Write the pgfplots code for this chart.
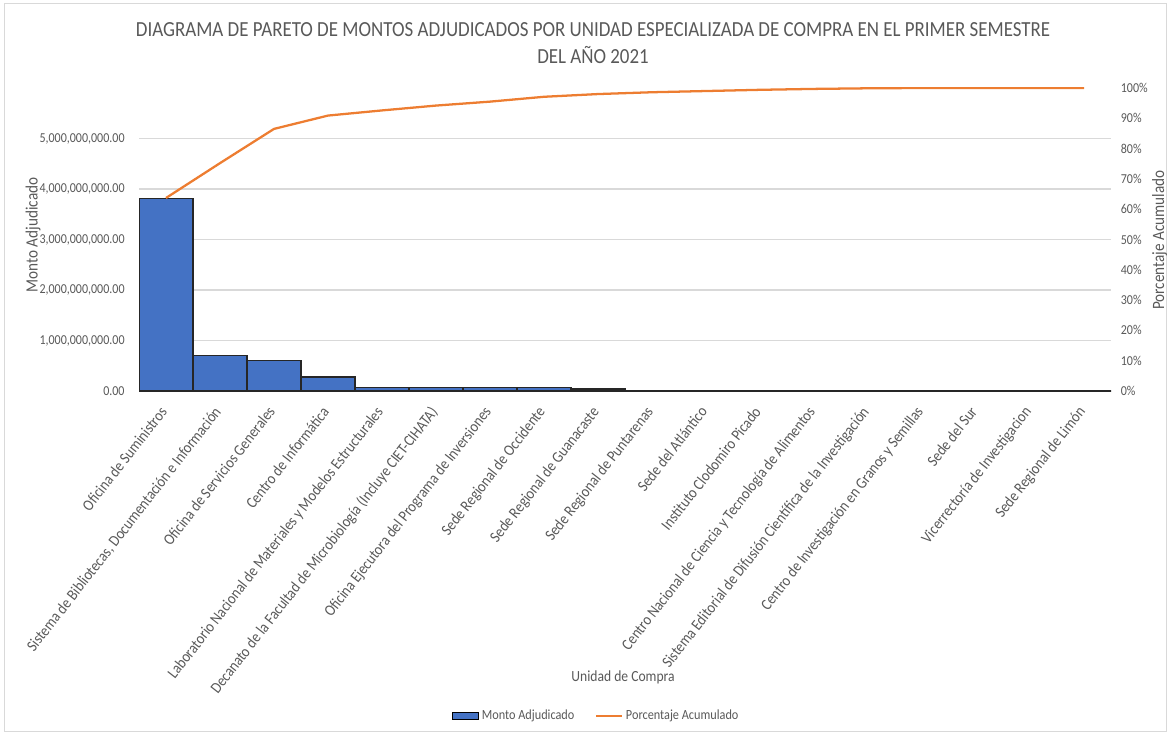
\documentclass[border=0pt]{standalone}
\usepackage{fontspec}
\setmainfont{Carlito}[FakeStretch=0.88]
\usepackage{pgfplots}
\pgfplotsset{compat=1.18}
\definecolor{barblue}{HTML}{4472C4}
\definecolor{lineorange}{HTML}{ED7D31}
\definecolor{txtgray}{HTML}{595959}
\definecolor{gridgray}{HTML}{D9D9D9}
\begin{document}
\begin{tikzpicture}
\useasboundingbox (0,0) rectangle (772.86pt,484.44pt);
\draw[gridgray, line width=0.6pt] (3pt,2pt) rectangle (770pt,482pt);
\node[txtgray, font=\fontsize{14.2}{17.8}\selectfont, align=center] at (391.4pt,455.7pt)
  {DIAGRAMA DE PARETO DE MONTOS ADJUDICADOS POR UNIDAD ESPECIALIZADA DE COMPRA EN EL PRIMER SEMESTRE\\DEL AÑO 2021};
\begin{axis}[
  at={(91.74pt,226.38pt)}, anchor=south west,
  scale only axis, width=641.52pt, height=199.98pt,
  xmin=-0.5, xmax=17.5, ymin=0, ymax=6000000000,
  axis line style={draw=none}, tick style={draw=none},
  ymajorgrids, grid style={gridgray, line width=0.8pt},
  ytick={0,1000000000,2000000000,3000000000,4000000000,5000000000},
  yticklabels={0.00,{1,000,000,000.00},{2,000,000,000.00},{3,000,000,000.00},{4,000,000,000.00},{5,000,000,000.00}},
  scaled y ticks=false,
  /pgf/number format/assume math mode=true,
  xtick={0,...,17},
  xticklabels={Oficina de Suministros,
    {Sistema de Bibliotecas, Documentación e Información},
    Oficina de Servicios Generales,
    Centro de Informática,
    Laboratorio Nacional de Materiales y Modelos Estructurales,
    Decanato de la Facultad de Microbiología (Incluye CIET-CIHATA),
    Oficina Ejecutora del Programa de Inversiones,
    Sede Regional de Occidente,
    Sede Regional de Guanacaste,
    Sede Regional de Puntarenas,
    Sede del Atlántico,
    Instituto Clodomiro Picado,
    Centro Nacional de Ciencia y Tecnología de Alimentos,
    Sistema Editorial de Difusión Científica de la Investigación,
    Centro de Investigación en Granos y Semillas,
    Sede del Sur,
    Vicerrectoría de Investigacion,
    Sede Regional de Limón},
  xticklabel style={xshift=-4.6pt, yshift=-9.2pt, rotate=52, anchor=north east, font=\fontsize{10.5}{12}\selectfont, text=txtgray, inner sep=0pt},
  yticklabel style={font=\fontsize{9}{11}\selectfont, text=txtgray, xshift=-6pt},
  xlabel={Unidad de Compra},
  xlabel style={at={(axis description cs:0.498,-0.944)}, anchor=center, font=\fontsize{10.2}{12}\selectfont, text=txtgray},
  ylabel={Monto Adjudicado},
  ylabel style={at={(axis description cs:-0.109,0.515)}, anchor=center, font=\fontsize{11.4}{13}\selectfont, text=txtgray},
]
\addplot[ybar, bar width=1, bar shift=0pt, fill=barblue, draw=black!85, line width=0.9pt]
  coordinates {
  (0,3810000000) (1,705000000) (2,610000000) (3,280000000)
  (4,67000000) (5,67000000) (6,67000000) (7,66000000)
  (8,42000000) (9,14000000) (10,8000000) (11,7000000)
  (12,6000000) (13,5000000) (14,4000000) (15,3000000)
  (16,0) (17,0)};
\end{axis}
\begin{axis}[
  at={(91.74pt,226.38pt)}, anchor=south west,
  scale only axis, width=641.52pt, height=199.98pt,
  xmin=-0.5, xmax=17.5, ymin=0, ymax=100,
  axis x line=none, axis y line*=right,
  axis line style={draw=none}, tick style={draw=none},
  ytick={0,10,...,100},
  yticklabel={\pgfmathprintnumber{\tick}\%},
  /pgf/number format/assume math mode=true,
  yticklabel style={font=\fontsize{9}{11}\selectfont, text=txtgray, anchor=west, xshift=3pt},
  ylabel={Porcentaje Acumulado},
  ylabel style={at={(axis description cs:1.050,0.498)}, anchor=center, font=\fontsize{11.4}{13}\selectfont, text=txtgray},
  legend style={at={(0.471,-1.073)}, anchor=center, draw=none, fill=none,
    font=\fontsize{9.2}{11}\selectfont, text=txtgray, legend columns=2,
    /tikz/every even column/.append style={column sep=11.5pt}},
]
\addlegendimage{legend image code/.code={\draw[fill=barblue, draw=black, line width=0.6pt] (0pt,-2.5pt) rectangle (17pt,2.5pt);}}
\addlegendentry{Monto Adjudicado}
\addplot[lineorange, line width=1.5pt, mark=none, legend image code/.code={\draw[lineorange, line width=1.5pt] (0pt,0pt) -- (17pt,0pt);}]
  coordinates {
  (0,63.7) (1,75.2) (2,86.5) (3,90.9) (4,92.6) (5,94.2) (6,95.5) (7,97.1)
  (8,98.0) (9,98.6) (10,99.0) (11,99.4) (12,99.7) (13,99.9) (14,100)
  (15,100) (16,100) (17,100)};
\addlegendentry{Porcentaje Acumulado}
\end{axis}
\end{tikzpicture}
\end{document}
